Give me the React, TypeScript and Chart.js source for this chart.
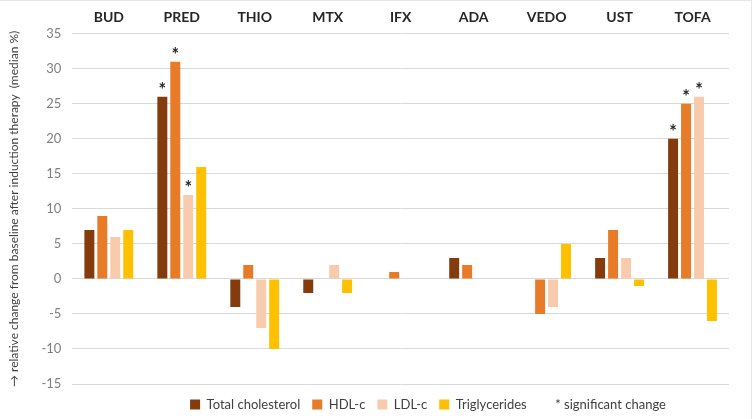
import React, { useEffect, useRef } from "react";
import { Chart, registerables } from "chart.js";

Chart.register(...registerables);

const categories = ["BUD", "PRED", "THIO", "MTX", "IFX", "ADA", "VEDO", "UST", "TOFA"];
const totalCholesterol = [7, 26, -4, -2, 0, 3, 0, 3, 20];
const hdlC = [9, 31, 2, 0, 1, 2, -5, 7, 25];
const ldlC = [6, 12, -7, 2, 0, 0, -4, 3, 26];
const triglycerides = [7, 16, -10, -2, 0, 0, 5, -1, -6];
const sigTotal = [false, true, false, false, false, false, false, false, true];
const sigHdl = [false, true, false, false, false, false, false, false, true];
const sigLdl = [false, true, false, false, false, false, false, false, true];
const sigTrig = [false, false, false, false, false, false, false, false, false];
const yTicks = [-15, -10, -5, 0, 5, 10, 15, 20, 25, 30, 35];

const FONT = "Lato, 'Open Sans', sans-serif";

const asteriskPlugin = {
  id: "asterisks",
  afterDatasetsDraw(chart: any) {
    const ctx = chart.ctx;
    ctx.save();
    ctx.font = `bold 18px ${FONT}`;
    ctx.fillStyle = "#262626";
    ctx.textAlign = "center";
    ctx.textBaseline = "alphabetic";
    chart.data.datasets.forEach((ds: any, i: number) => {
      const meta = chart.getDatasetMeta(i);
      const sig: boolean[] = ds.sig || [];
      meta.data.forEach((el: any, j: number) => {
        if (sig[j]) {
          ctx.fillText("*", el.x, el.y - 1);
        }
      });
    });
    ctx.restore();
  },
};

const legendShift = {
  id: "legendShift",
  afterLayout(chart: any) {
    const lg = chart.legend;
    if (!lg) return;
    const dx = 60;
    const dy = 2;
    lg.left += dx;
    lg.right += dx;
    lg.top += dy;
    lg.bottom += dy;
    if (lg.legendHitBoxes) {
      lg.legendHitBoxes.forEach((h: any) => {
        h.left += dx;
        h.top += dy;
      });
    }
  },
};

export default function App() {
  const ref = useRef<HTMLCanvasElement>(null);
  useEffect(() => {
    document.body.style.margin = "0";
    if (!ref.current) return;
    const chart = new Chart(ref.current, {
      type: "bar",
      data: {
        labels: categories,
        datasets: [
          { label: "Total cholesterol", data: totalCholesterol, backgroundColor: "#843C0C", sig: sigTotal } as any,
          { label: "HDL-c", data: hdlC, backgroundColor: "#E87B27", sig: sigHdl } as any,
          { label: "LDL-c", data: ldlC, backgroundColor: "#F8CBAD", sig: sigLdl } as any,
          { label: "Triglycerides", data: triglycerides, backgroundColor: "#FFC000", sig: sigTrig } as any,
        ],
      },
      plugins: [asteriskPlugin, legendShift],
      options: {
        animation: false,
        responsive: true,
        maintainAspectRatio: false,
        layout: { padding: { left: 7, right: 22, top: 8, bottom: 0 } },
        datasets: { bar: { categoryPercentage: 0.71, barPercentage: 0.77 } },
        scales: {
          x: {
            position: "top",
            grid: { display: false },
            border: { display: false },
            ticks: {
              color: "#262626",
              font: { family: FONT, size: 14, weight: "bold" },
              padding: 0,
            },
          },
          y: {
            min: -15,
            max: 35,
            afterBuildTicks: (axis: any) => {
              axis.ticks = yTicks.map((v) => ({ value: v }));
            },
            grid: { color: "#D9D9D9", drawTicks: false, lineWidth: 1 },
            border: { display: false },
            ticks: {
              color: "#7F7F7F",
              font: { family: FONT, size: 13 },
              padding: 11,
            },
            title: {
              display: true,
              text: "→ relative change from baseline after induction therapy  (median %)",
              color: "#404040",
              font: { family: FONT, size: 12 },
              padding: { top: 0, bottom: 9 },
            },
          },
        },
        plugins: {
          tooltip: { enabled: false },
          legend: {
            position: "bottom",
            labels: {
              boxWidth: 10,
              boxHeight: 10,
              padding: 12,
              color: "#404040",
              font: { family: FONT, size: 13 },
              generateLabels: (c: any) => {
                const items = Chart.defaults.plugins.legend.labels.generateLabels(c);
                items.forEach((it: any) => {
                  it.lineWidth = 0;
                  it.strokeStyle = "rgba(0,0,0,0)";
                });
                items.push({
                  text: "* significant change",
                  fillStyle: "rgba(0,0,0,0)",
                  strokeStyle: "rgba(0,0,0,0)",
                  lineWidth: 0,
                  hidden: false,
                  datasetIndex: 99,
                } as any);
                return items;
              },
            },
          },
        },
      } as any,
    });
    return () => chart.destroy();
  }, []);
  return (
    <div style={{ width: 752, height: 419, position: "relative", boxSizing: "border-box", borderTop: "1px solid #E6E6E6", borderRight: "1px solid #E6E6E6", background: "#fff" }}>
      <canvas ref={ref} />
    </div>
  );
}
